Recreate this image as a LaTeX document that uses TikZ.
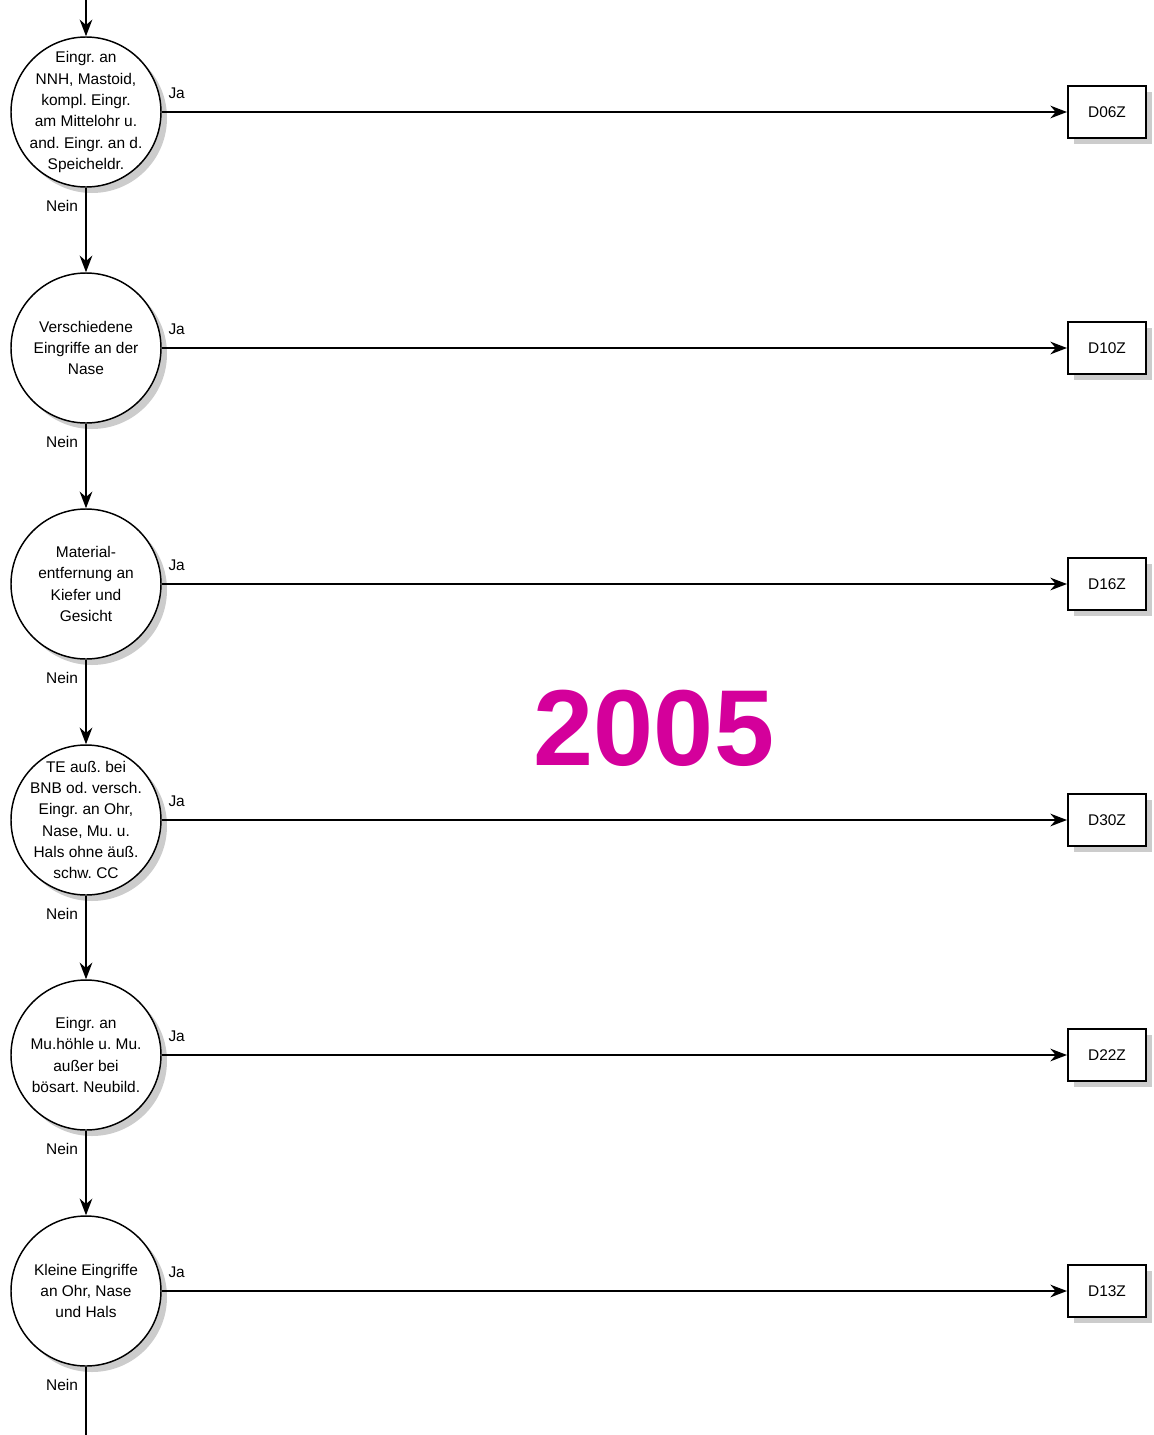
\documentclass[tikz,border=0pt]{standalone}
\usepackage{fontspec}
\setmainfont{Liberation Sans}
\usetikzlibrary{arrows.meta,shadows}
\definecolor{magentaY}{HTML}{D4009B}
\frenchspacing
\begin{document}
\begin{tikzpicture}[x=0.75pt,y=-0.75pt,
  txt/.style={font=\fontsize{11.6}{16}\selectfont},
  decision/.style={circle,draw,line width=1.1pt,fill=white,minimum size=112.5pt,inner sep=-14pt,align=center,txt,
    drop shadow={shadow xshift=4.5pt,shadow yshift=-4.5pt,fill=gray!40,opacity=1}},
  result/.style={rectangle,draw,line width=1.5pt,fill=white,minimum width=58.5pt,minimum height=39pt,inner sep=0pt,txt,
    drop shadow={shadow xshift=4.5pt,shadow yshift=-4.5pt,fill=gray!40,opacity=1}},
  flow/.style={line width=1.2pt,-{Stealth[length=12.5pt,width=9.5pt]}},
  plain/.style={line width=1.2pt},
  lbl/.style={txt,inner sep=0pt}]
\useasboundingbox (0,0) rectangle (1153,1435);
\coordinate (top) at (86,0);
\coordinate (bot) at (86,1435);
\node[decision] (c1) at (86,112) {Eingr. an\\NNH, Mastoid,\\kompl. Eingr.\\am Mittelohr u.\\and. Eingr. an d.\\Speicheldr.};
\node[decision] (c2) at (86,348) {Verschiedene\\Eingriffe an der\\Nase};
\node[decision] (c3) at (86,584) {Material-\\entfernung an\\Kiefer und\\Gesicht};
\node[decision] (c4) at (86,820) {TE auß. bei\\BNB od. versch.\\Eingr. an Ohr,\\Nase, Mu. u.\\Hals ohne äuß.\\schw. CC};
\node[decision] (c5) at (86,1055) {Eingr. an\\Mu.höhle u. Mu.\\außer bei\\bösart. Neubild.};
\node[decision] (c6) at (86,1291) {Kleine Eingriffe\\an Ohr, Nase\\und Hals};
\node[result] (r1) at (1107,112) {D06Z};
\node[result] (r2) at (1107,348) {D10Z};
\node[result] (r3) at (1107,584) {D16Z};
\node[result] (r4) at (1107,820) {D30Z};
\node[result] (r5) at (1107,1055) {D22Z};
\node[result] (r6) at (1107,1291) {D13Z};
\draw[flow] (top) -- (c1);
\draw[flow] (c1) -- (c2);
\draw[flow] (c2) -- (c3);
\draw[flow] (c3) -- (c4);
\draw[flow] (c4) -- (c5);
\draw[flow] (c5) -- (c6);
\draw[plain] (c6) -- (bot);
\foreach \i in {1,...,6} {
  \draw[flow] (c\i) -- (r\i);
  \node[lbl] (ja\i) at ([xshift=68pt,yshift=14pt]c\i.center) {Ja};
  \node[lbl] (nein\i) at ([xshift=-18pt,yshift=-14pt]c\i.south) {Nein};
}
\node[font=\fontsize{81}{81}\selectfont\bfseries,text=magentaY,inner sep=0pt] (year) at (654,728) {2005};
\end{tikzpicture}
\end{document}
